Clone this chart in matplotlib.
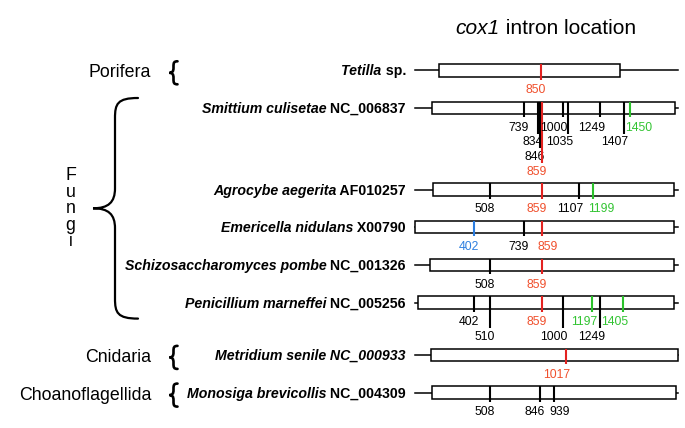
import matplotlib
matplotlib.use('Agg')
import matplotlib.pyplot as plt
from matplotlib.path import Path
from matplotlib.patches import PathPatch, Rectangle

plt.rcParams['font.family'] = ['Liberation Sans', 'DejaVu Sans']

# ---- data: species, cox1 gene extent and intron insertion sites ----
genus = ['Tetilla', 'Smittium culisetae', 'Agrocybe aegerita', 'Emericella nidulans',
         'Schizosaccharomyces pombe', 'Penicillium marneffei', 'Metridium senile',
         'Monosiga brevicollis']
accession = ['sp.', 'NC_006837', 'AF010257', 'X00790', 'NC_001326', 'NC_005256',
             'NC_000933', 'NC_004309']
acc_italic = [False, False, False, False, False, False, True, False]
gene_start = [165, 118, 124, 0, 104, 21, 109, 116]
gene_end = [1383, 1753, 1746, 1746, 1746, 1746, 1775, 1760]
seq_end = 1773

introns = [
    [850],
    [739, 834, 846, 859, 1000, 1035, 1249, 1407, 1450],
    [508, 859, 1107, 1199],
    [402, 739, 859],
    [508, 859],
    [402, 510, 859, 1000, 1197, 1249, 1405],
    [1017],
    [508, 846, 939],
]
# k = other, r = shared site (850/859/1017), g = green, b = blue
intron_kind = [
    ['r'],
    ['k', 'k', 'k', 'r', 'k', 'k', 'k', 'k', 'g'],
    ['k', 'r', 'k', 'g'],
    ['b', 'k', 'r'],
    ['k', 'r'],
    ['k', 'k', 'r', 'k', 'g', 'k', 'g'],
    ['r'],
    ['k', 'k', 'k'],
]

groups = ['Porifera', 'Fungi', 'Cnidaria', 'Choanoflagellida']
group_first = [0, 1, 6, 7]
group_last = [0, 5, 6, 7]

# ---- layout ----
# which text row under the box each intron label sits on
label_level = [
    [0],
    [0, 1, 2, 3, 0, 1, 0, 1, 0],
    [0, 0, 0, 0],
    [0, 0, 0],
    [0, 0],
    [0, 1, 0, 1, 0, 1, 0],
    [0],
    [0, 0, 0],
]
left_labels = {(1, 1450), (2, 1199), (3, 859), (7, 939)}
tick_colors = {'k': 'black', 'r': '#e32220', 'g': '#2cc22c', 'b': '#2b7de0'}
text_colors = {'k': 'black', 'r': '#f0502d', 'g': '#33c433', 'b': '#2f80e0'}

PX_PER_UNIT = 0.1486
X0_PX = 414.5


def px(v):
    """pixel column -> intron position units"""
    return (v - X0_PX) / PX_PER_UNIT


BOX_H = 12.5
LEVEL = 14.6
row_y = [70.3]
for i in range(1, len(genus)):
    row_y.append(row_y[-1] + 37.7 + LEVEL * max(label_level[i - 1]))

fig = plt.figure(figsize=(6.85, 4.28), dpi=100)
ax = fig.add_axes([0, 0, 1, 1])
ax.set_xlim(px(0), px(685))
ax.set_ylim(428, 0)
ax.axis('off')


def brace(x_end, x_spine, x_tip, top, bot, r, lw):
    mid = (top + bot) / 2
    xe, xs, xt = px(x_end), px(x_spine), px(x_tip)
    verts = [(xe, top), (xs + (xe - xs) * 0.1, top), (xs, top + r * 0.3), (xs, top + r),
             (xs, mid - r),
             (xs, mid - r * 0.3), (xs - (xs - xt) * 0.3, mid), (xt, mid),
             (xs - (xs - xt) * 0.3, mid), (xs, mid + r * 0.3), (xs, mid + r),
             (xs, bot - r),
             (xs, bot - r * 0.3), (xs + (xe - xs) * 0.1, bot), (xe, bot)]
    codes = [Path.MOVETO, Path.CURVE4, Path.CURVE4, Path.CURVE4,
             Path.LINETO,
             Path.CURVE4, Path.CURVE4, Path.CURVE4,
             Path.CURVE4, Path.CURVE4, Path.CURVE4,
             Path.LINETO,
             Path.CURVE4, Path.CURVE4, Path.CURVE4]
    ax.add_patch(PathPatch(Path(verts, codes), fc='none', ec='black', lw=lw,
                           capstyle='round'))


# title
reg = ax.text(px(500), 28, ' intron location', ha='left', va='center', fontsize=15)
ax.annotate('cox1', xy=(0, 0), xycoords=reg, ha='right', va='bottom',
            fontsize=15, style='italic')

for i, y in enumerate(row_y):
    top = y - BOX_H / 2
    bottom = y + BOX_H / 2
    ax.plot([0, seq_end], [y, y], color='black', lw=1.1, zorder=1)
    ax.add_patch(Rectangle((gene_start[i], top), gene_end[i] - gene_start[i], BOX_H,
                           fc='white', ec='black', lw=1.1, zorder=2))
    for pos, kind, lev in zip(introns[i], intron_kind[i], label_level[i]):
        end = bottom + 3 if lev == 0 else bottom + 5 + LEVEL * lev
        ax.plot([pos, pos], [top, end], color=tick_colors[kind], lw=1.5, zorder=3,
                solid_capstyle='butt')
        if (i, pos) in left_labels:
            ha, dx = 'left', -3.4
        else:
            ha, dx = 'right', 3.4
        ax.annotate(str(pos), (pos, bottom + 13.5 + LEVEL * lev), xytext=(dx, 0),
                    textcoords='offset points', ha=ha, va='center', fontsize=8.8,
                    color=text_colors[kind])

    acc = ax.text(px(406), y + 1, ' ' + accession[i], ha='right', va='center',
                  fontsize=10.2, fontweight='bold',
                  style='italic' if acc_italic[i] else 'normal')
    ax.annotate(genus[i], xy=(0, 0), xycoords=acc, ha='right', va='bottom',
                fontsize=10.2, fontweight='bold', style='italic')

# group labels and braces
for g, a, b in zip(groups, group_first, group_last):
    if a == b:
        yc = row_y[a] + 2.5
        ax.text(px(151), yc, g, ha='right', va='center', fontsize=12.8)
        brace(177.5, 173.5, 169.5, yc - 11.5, yc + 11.5, 5, 1.9)
    else:
        top, bot = row_y[a] - 10, row_y[b] + 16
        mid = (top + bot) / 2
        brace(138, 115, 93, top, bot, 20, 1.6)
        for k, ch in enumerate(g):
            ax.text(px(70.5), mid + 5 + (k - 2) * 16.5, ch, ha='center', va='baseline',
                    fontsize=12.8)

fig.savefig('out.png', dpi=100)
